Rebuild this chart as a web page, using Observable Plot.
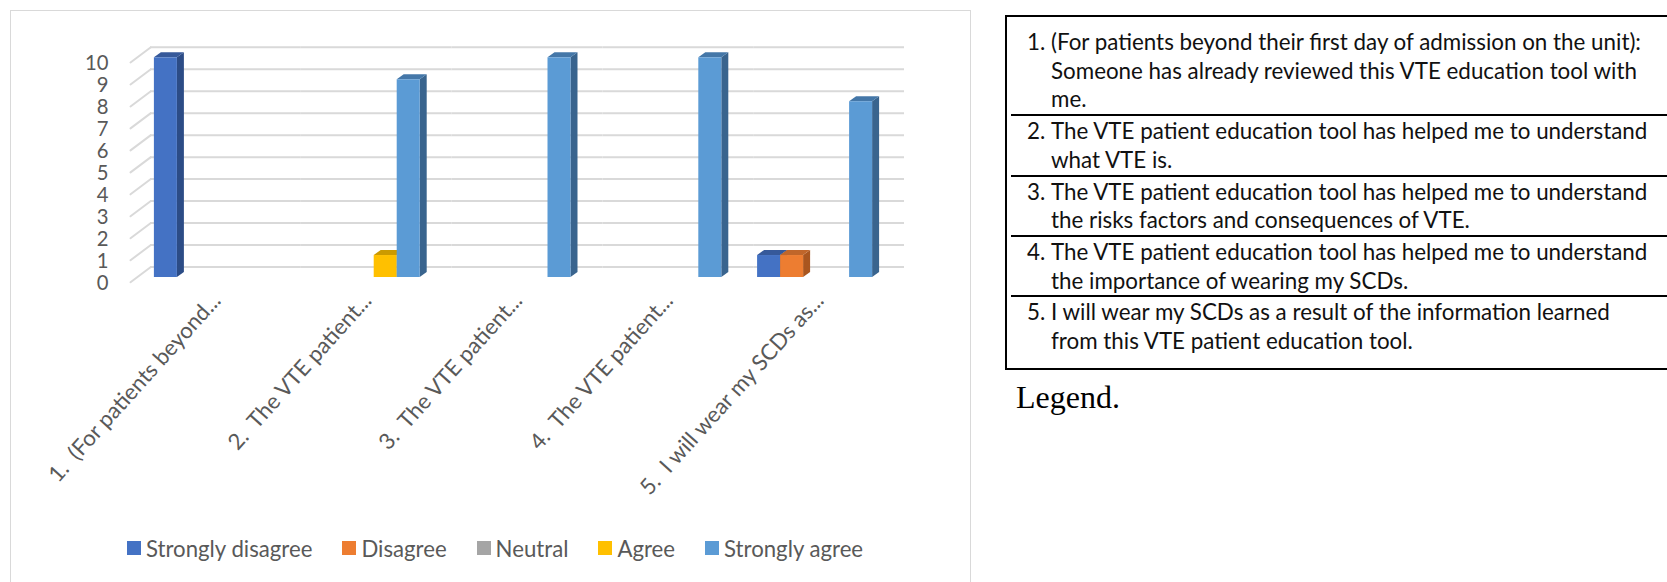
<!DOCTYPE html>
<html>
<head>
<meta charset="utf-8">
<script src="https://cdn.jsdelivr.net/npm/d3@7"></script>
<script src="https://cdn.jsdelivr.net/npm/@observablehq/plot@0.6"></script>
<style>
  html, body { margin: 0; padding: 0; background: #fff; }
  body { width: 1667px; height: 582px; overflow: hidden; position: relative; font-family: Lato, sans-serif; }
  #chartbox { position: absolute; left: 10px; top: 10px; width: 961px; height: 640px; border: 1.5px solid #d9d9d9; box-sizing: border-box; pointer-events: none; z-index: 2; }
  #chart { position: absolute; left: 0; top: 0; z-index: 1; }
  #chart svg { overflow: visible; }
  #legend { position: absolute; left: 127px; top: 536px; height: 24px; display: flex; align-items: center; color: #595959; white-space: nowrap; z-index: 3; }
  #legend .item { display: flex; align-items: center; margin-right: 30px; }
  #legend .sw { width: 14px; height: 14px; margin-right: 5px; flex: none; }
  #table { position: absolute; left: 1005px; top: 15px; width: 720px; height: 355px; border: 2px solid #000; border-right: none; box-sizing: border-box; color: #111; }
  #table .row { margin-left: 4px; padding-left: 16px; border-top: 2px solid #000; padding-top: 1px; }
  #table .row:first-child { border-top: none; padding-top: 11px; }
  #table .line { display: flex; white-space: pre; }
  #table .num { width: 24px; flex: none; }
  #caption { position: absolute; left: 1016px; top: 381px; font-family: "Liberation Serif", "Times New Roman", serif; font-size: 32px; line-height: 32px; color: #000; }
</style>
</head>
<body>
<div id="chartbox"></div>
<div id="chart"></div>
<div id="legend"></div>
<div id="table"></div>
<div id="caption">Legend.</div>
<script>
// ---------- data ----------
const categories = [
  "1.  (For patients beyond...",
  "2.  The VTE patient...",
  "3.  The VTE patient...",
  "4.  The VTE patient...",
  "5.  I will wear my SCDs as..."
];
const seriesNames = ["Strongly disagree", "Disagree", "Neutral", "Agree", "Strongly agree"];
const stronglyDisagree = [10, 0, 0, 0, 1];
const disagree         = [0, 0, 0, 0, 1];
const neutral          = [0, 0, 0, 0, 0];
const agree            = [0, 1, 0, 0, 0];
const stronglyAgree    = [0, 9, 10, 10, 8];
const yTicks = [0, 1, 2, 3, 4, 5, 6, 7, 8, 9, 10];

const seriesColors = ["#4472C4", "#ED7D31", "#A5A5A5", "#FFC000", "#5B9BD5"];
const sideColors   = ["#2C4C86", "#A9561F", "#7A7A7A", "#B88A00", "#39648E"];
const topColors    = ["#36599A", "#C0662A", "#8C8C8C", "#CC9A00", "#4477A8"];

const tableNumbers = ["1.", "2.", "3.", "4.", "5."];
const tableLines = [
  ["(For patients beyond their first day of admission on the unit):", "Someone has already reviewed this VTE education tool with", "me."],
  ["The VTE patient education tool has helped me to understand", "what VTE is."],
  ["The VTE patient education tool has helped me to understand", "the risks factors and consequences of VTE."],
  ["The VTE patient education tool has helped me to understand", "the importance of wearing my SCDs."],
  ["I will wear my SCDs as a result of the information learned", "from this VTE patient education tool."]
];

// ---------- build table of values ----------
const seriesValues = [stronglyDisagree, disagree, neutral, agree, stronglyAgree];
const rows = [];
categories.forEach((c, i) => {
  seriesNames.forEach((s, j) => {
    rows.push({category: c, series: s, value: seriesValues[j][i], k: j});
  });
});
const bars = rows.filter(d => d.value > 0);

// ---------- font sizing (match the reference's Calibri text widths) ----------
const FONT = "Lato, sans-serif";
const ctx = document.createElement("canvas").getContext("2d");
ctx.font = `100px ${FONT}`;
const fitSize = (sample, targetWidth) => +(100 * targetWidth / ctx.measureText(sample).width).toFixed(2);
const legendSize = fitSize("Strongly disagree", 167);
const labelSize  = fitSize(categories[4], 264);
const tickSize   = fitSize("10", 23.5);
const tableSize  = fitSize(tableLines[0][0], 592);

// ---------- chart ----------
const chart = Plot.plot({
  width: 980,
  height: 530,
  marginLeft: 136,
  marginRight: 90,
  marginTop: 57.3,
  marginBottom: 253,
  style: {background: "transparent", overflow: "visible"},
  fx: {domain: categories, padding: 0, round: false, axis: null, label: null},
  x: {domain: seriesNames, paddingInner: 0, paddingOuter: 0.778, round: false, axis: null, label: null},
  y: {domain: [0, 10], axis: null, label: null},
  color: {type: "identity"},
  marks: [
    // back wall gridlines
    Plot.ruleY(yTicks, {y: d => d, dx: 14, dy: -10.5, stroke: "#d9d9d9", strokeWidth: 2}),
    // diagonal side-wall ticks
    Plot.vectorY(yTicks, {
      y: d => d, fx: () => categories[0], frameAnchor: "left",
      shape: "spike", r: 0, length: 25, rotate: 53.13, anchor: "start",
      dx: -6, dy: 4.7, fill: "none", stroke: "#d9d9d9", strokeWidth: 2
    }),
    // y tick labels
    Plot.text(yTicks, {
      y: d => d, fx: () => categories[0], frameAnchor: "left", text: d => String(d),
      textAnchor: "end", dx: -28, dy: 5.7, fontSize: tickSize, fontFamily: FONT, fill: "#595959"
    }),
    // 3D bar faces: side, top, front
    Plot.barY(bars, {fx: "category", x: "series", y: "value", fill: d => sideColors[d.k], dx: 7, insetLeft: 16, ariaLabel: d => "side " + d.series}),
    Plot.barY(bars, {fx: "category", x: "series", y1: "value", y2: "value", insetTop: -5, fill: d => topColors[d.k], ariaLabel: d => "top " + d.series}),
    Plot.barY(bars, {fx: "category", x: "series", y: "value", fill: d => seriesColors[d.k], ariaLabel: d => d.series + ": " + d.value}),
    // category labels
    Plot.text(categories, {
      fx: d => d, frameAnchor: "bottom", text: d => d, rotate: -48,
      textAnchor: "end", lineAnchor: "bottom", dx: 10, dy: 24,
      fontSize: labelSize, fontFamily: FONT, fill: "#595959"
    })
  ]
});
document.getElementById("chart").appendChild(chart);

// skew the side and top faces into parallelograms (3D look)
d3.select(chart).selectAll('rect[aria-label^="side "]').each(function () {
  const r = d3.select(this);
  const x = +r.attr("x");
  r.attr("transform", `translate(${x},0) skewY(-35.54) translate(${-x},0)`);
});
d3.select(chart).selectAll('rect[aria-label^="top "]').each(function () {
  const r = d3.select(this);
  const yb = +r.attr("y") + +r.attr("height");
  r.attr("transform", `translate(0,${yb}) skewX(-54.46) translate(0,${-yb})`);
});

// ---------- legend ----------
const legend = document.getElementById("legend");
legend.style.fontSize = legendSize + "px";
seriesNames.forEach((s, j) => {
  const item = document.createElement("div");
  item.className = "item";
  const sw = document.createElement("span");
  sw.className = "sw";
  sw.style.background = seriesColors[j];
  const t = document.createElement("span");
  t.textContent = s;
  item.appendChild(sw); item.appendChild(t);
  legend.appendChild(item);
});

// ---------- right-hand legend table ----------
const table = document.getElementById("table");
table.style.fontSize = tableSize + "px";
table.style.lineHeight = "28.7px";
tableLines.forEach((lines, i) => {
  const row = document.createElement("div");
  row.className = "row";
  lines.forEach((ln, k) => {
    const line = document.createElement("div");
    line.className = "line";
    const n = document.createElement("span");
    n.className = "num";
    n.textContent = k === 0 ? tableNumbers[i] : "";
    const t = document.createElement("span");
    t.textContent = ln;
    line.appendChild(n); line.appendChild(t);
    row.appendChild(line);
  });
  table.appendChild(row);
});
</script>
</body>
</html>
